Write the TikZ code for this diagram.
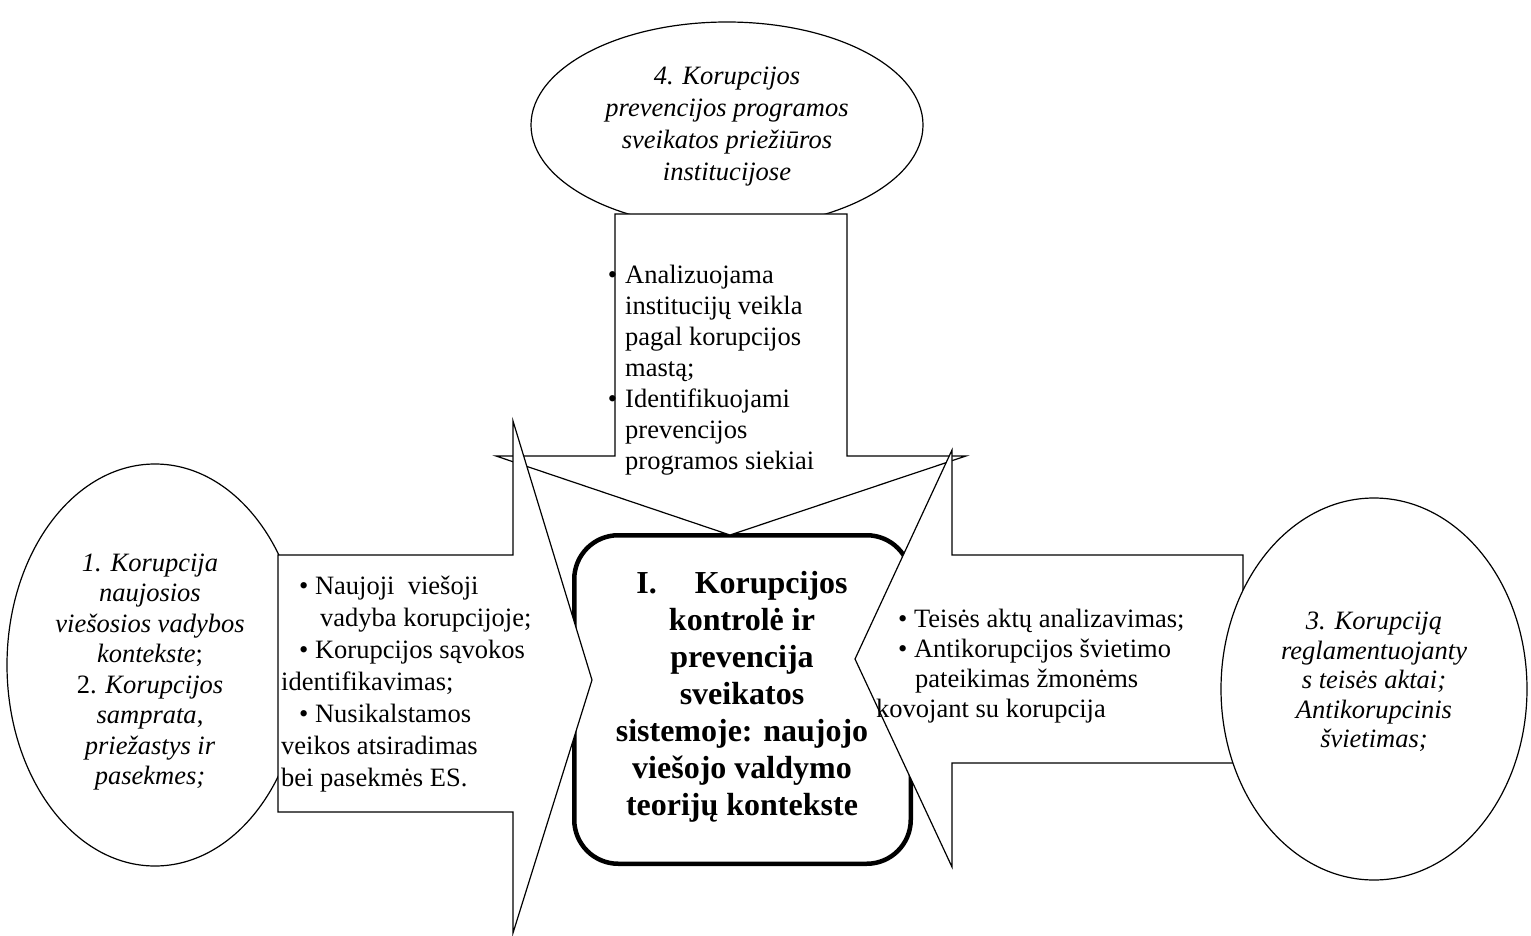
\documentclass[tikz,border=0pt]{standalone}
\usepackage{fontspec}
\setmainfont{Liberation Serif}
\usetikzlibrary{shapes.geometric}
\begin{document}
\begin{tikzpicture}[x=1pt,y=-1pt,
  bubble/.style={ellipse, draw=black, line width=1.2pt, fill=white, inner sep=0pt},
  blockarrow/.style={draw=black, line width=1.2pt, fill=white, line join=miter, miter limit=20},
  corebox/.style={draw=black, line width=4.5pt, rounded corners=44pt, fill=white, inner sep=0pt},
  bubbletext/.style={font=\fontsize{26.5}{30.5}\selectfont\itshape, align=center, inner sep=0pt},
  listtext/.style={font=\fontsize{26.5}{31}\selectfont, align=left, inner sep=0pt},
  coretext/.style={font=\fontsize{32}{37}\selectfont\bfseries, align=center, inner sep=0pt}]
\useasboundingbox (0,0) rectangle (1531,936);

% bubbles lying under the arrows
\node[bubble, minimum width=392pt, minimum height=206pt] (bub4) at (727,125) {};
\node[bubble, minimum width=296pt, minimum height=402pt] (bub1) at (155,665) {};

% central rounded box
\node[corebox, minimum width=336.5pt, minimum height=328.5pt] (core) at (742.5,699.5) {};

% arrow from above
\draw[blockarrow] (615,214) -- (847,214) -- (847,456) -- (966,456) -- (730,535)
  -- (496,456) -- (615,456) -- cycle;
% arrow from the left
\draw[blockarrow] (278,555) -- (513,555) -- (513,421) -- (592,680) -- (513,933)
  -- (513,812) -- (278,812) -- cycle;
% arrow from the right
\draw[blockarrow] (1243,555) -- (952,555) -- (952,450) -- (855,659) -- (952,867)
  -- (952,763) -- (1243,763) -- cycle;

% bubble lying over the right arrow
\node[bubble, minimum width=306pt, minimum height=382pt] (bub3) at (1374,689) {};

% texts
\node[bubbletext, font=\fontsize{26.5}{32}\selectfont\itshape] (txt4) at (727,127)
  {4. Korupcijos\\prevencijos programos\\sveikatos priežiūros\\institucijose};
\node[bubbletext] (txt1) at (150,672)
  {1. Korupcija\\naujosios\\viešosios vadybos\\kontekste{\upshape;}\\{\upshape 2.} Korupcijos\\samprata{\upshape,}\\priežastys ir\\pasekmes;};
\node[bubbletext, font=\fontsize{26.5}{29.5}\selectfont\itshape] (txt3) at (1374,682)
  {3. Korupciją\\reglamentuojanty\\s teisės aktai;\\Antikorupcinis\\švietimas;};

\node[listtext, anchor=west] (list4) at (625,370)
  {\llap{•\hspace{8pt}}Analizuojama\\institucijų veikla\\pagal korupcijos\\mastą;\\\llap{•\hspace{8pt}}Identifikuojami\\prevencijos\\programos siekiai};
\node[listtext, anchor=west, font=\fontsize{26.5}{32}\selectfont] (list1) at (281,684)
  {\hspace*{18pt}• Naujoji\ \ viešoji\\\hspace*{39pt}vadyba korupcijoje;\\\hspace*{18pt}• Korupcijos sąvokos\\identifikavimas;\\\hspace*{18pt}• Nusikalstamos\\veikos atsiradimas\\bei pasekmės ES.};
\node[listtext, anchor=west, font=\fontsize{26.5}{30}\selectfont] (list3) at (876,666)
  {\hspace*{22pt}• Teisės aktų analizavimas;\\\hspace*{22pt}• Antikorupcijos švietimo\\\hspace*{39pt}pateikimas žmonėms\\kovojant su korupcija};

\node[coretext] (coretxt) at (742,697)
  {I.\hspace{38pt}Korupcijos\\kontrolė ir\\prevencija\\sveikatos\\sistemoje: naujojo\\viešojo valdymo\\teorijų kontekste};
\end{tikzpicture}
\end{document}
